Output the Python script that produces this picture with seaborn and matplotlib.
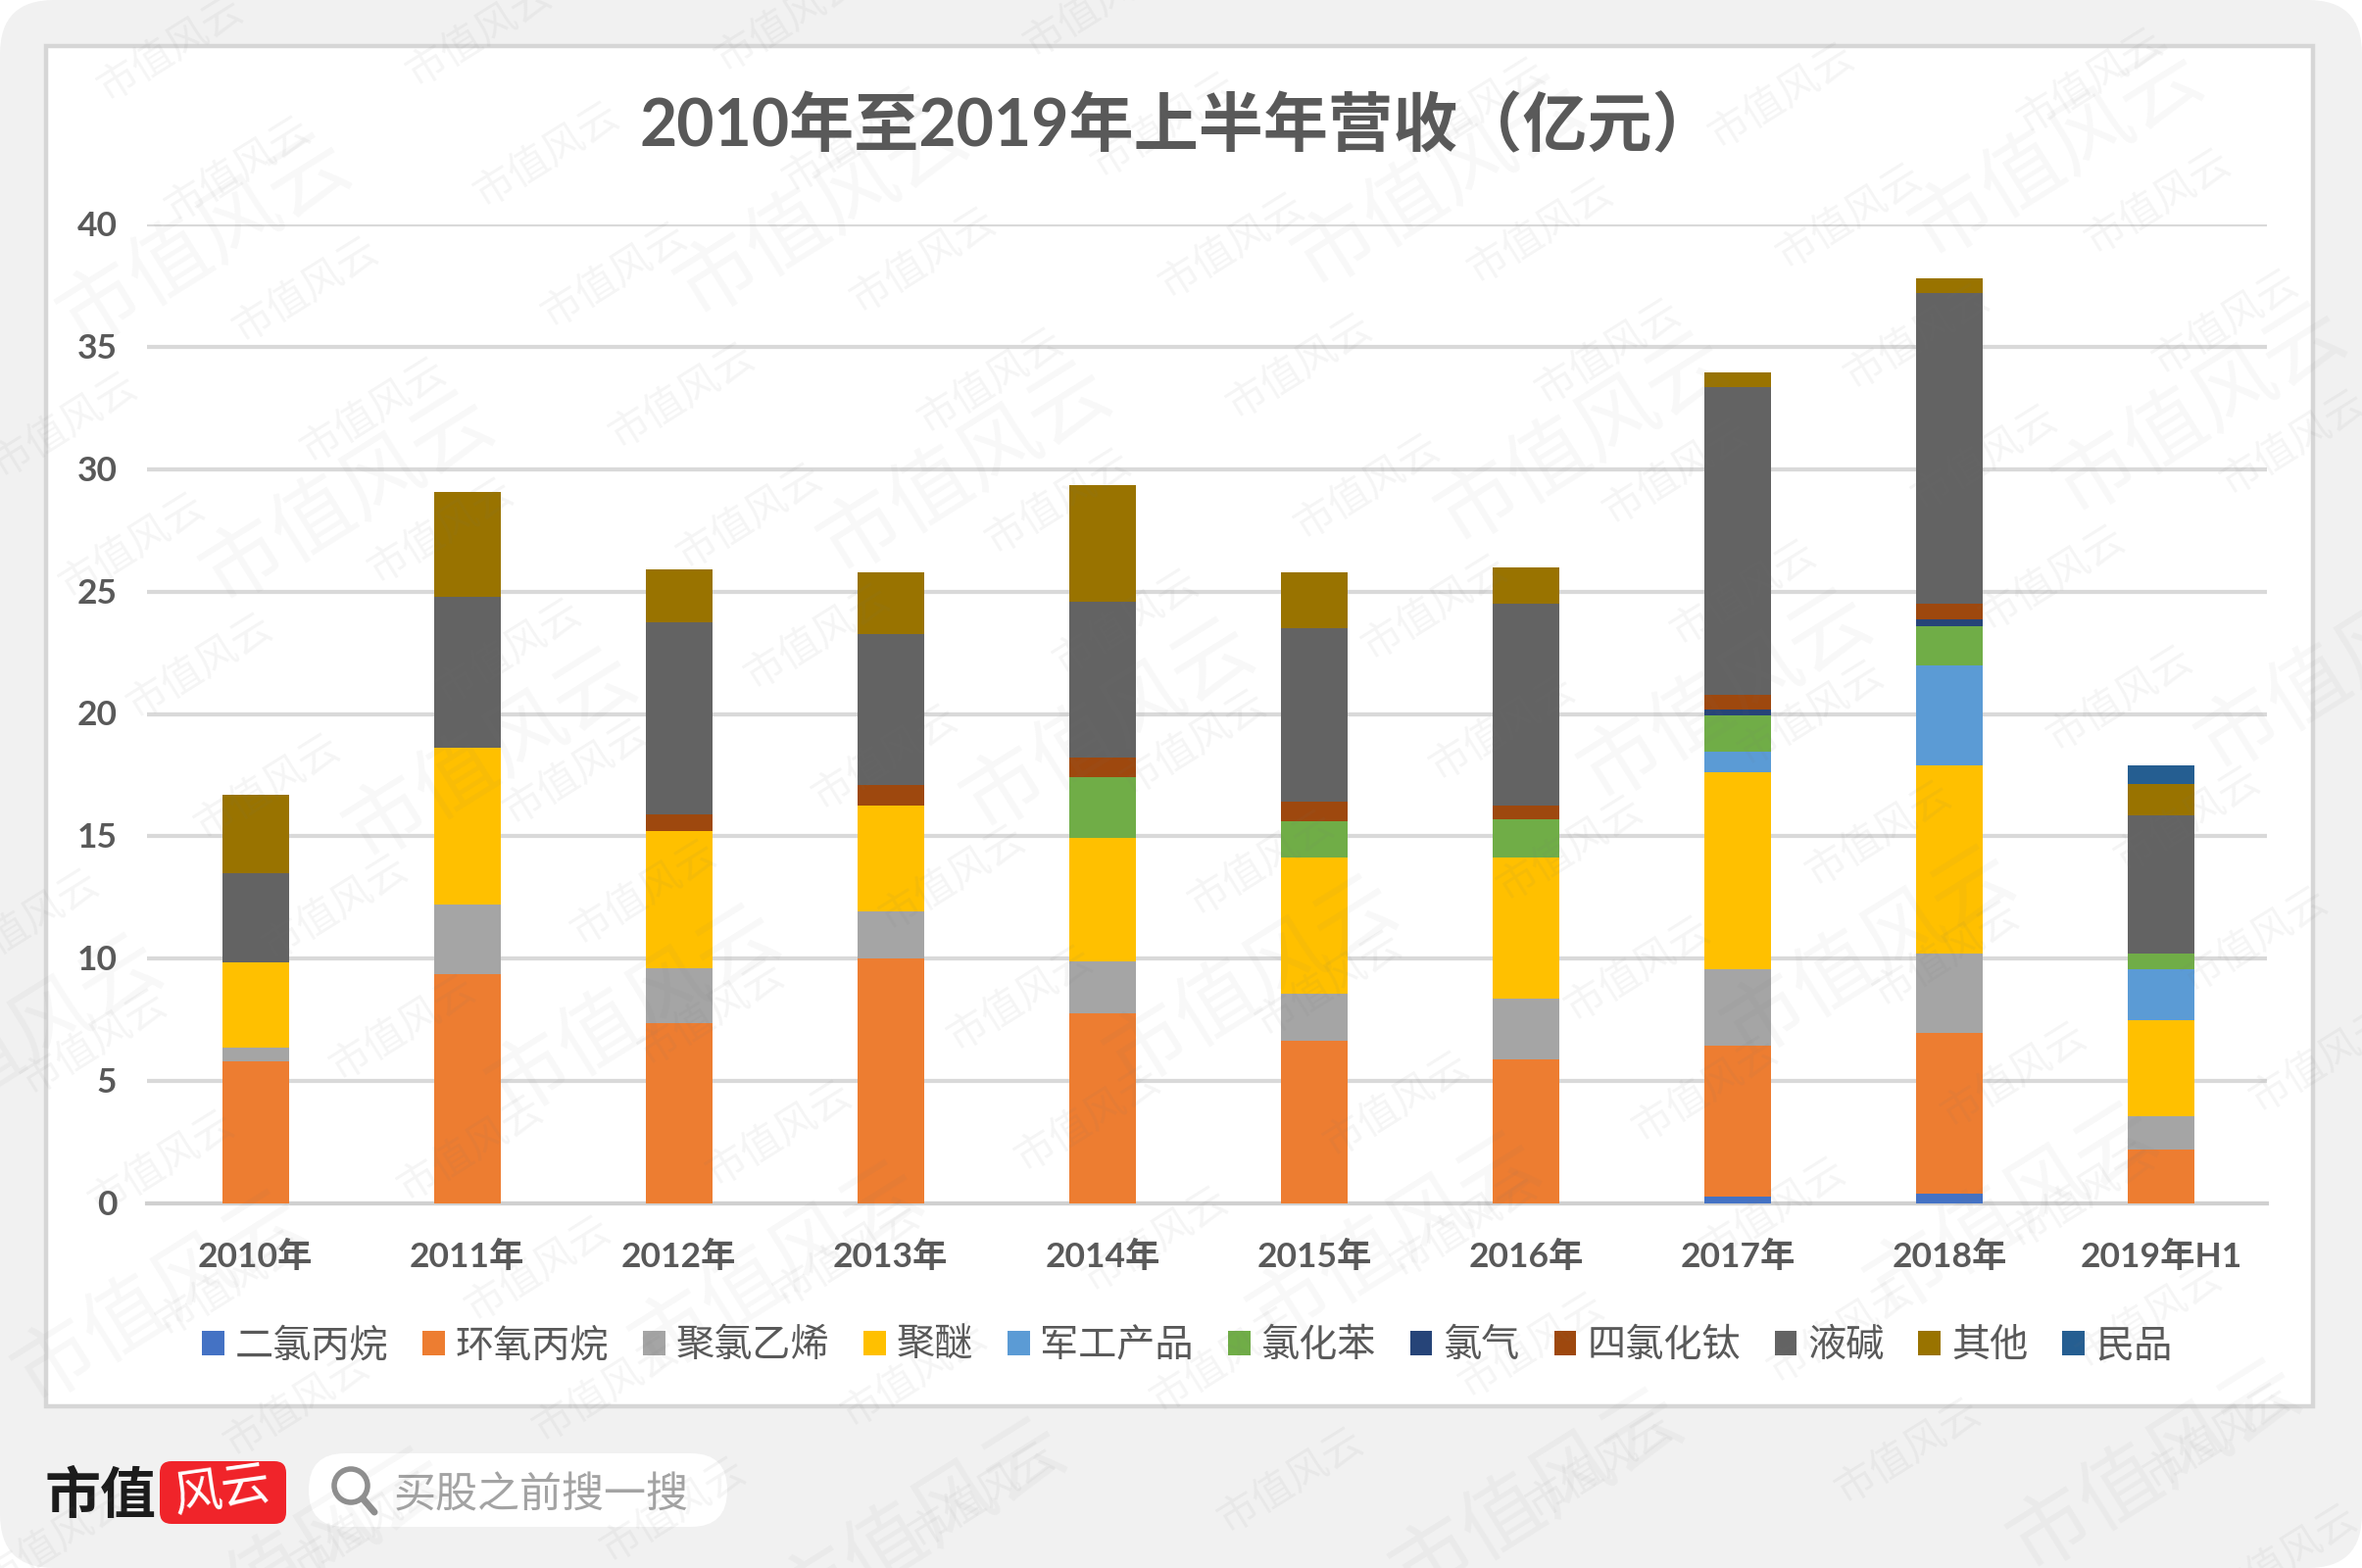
import matplotlib
matplotlib.use("Agg")
import matplotlib.pyplot as plt
from matplotlib.patches import FancyBboxPatch, Rectangle, Circle
from matplotlib.lines import Line2D
from matplotlib.transforms import ScaledTranslation
import numpy as np
import seaborn as sns

sns.set_theme(style="white")
FONT = ["Lato", "Noto Sans CJK SC", "DejaVu Sans"]
CJK = ["Noto Sans CJK SC", "DejaVu Sans"]
plt.rcParams["font.family"] = FONT

# Revenue by product line, 100 million yuan
years = ["2010年", "2011年", "2012年", "2013年", "2014年", "2015年", "2016年", "2017年", "2018年", "2019年H1"]
dichloropropane = [0, 0, 0, 0, 0, 0, 0, 0.3, 0.4, 0]
epichlorohydrin = [5.8, 9.35, 7.35, 10.0, 7.75, 6.65, 5.9, 6.15, 6.55, 2.2]
pvc = [0.55, 2.85, 2.25, 1.95, 2.15, 1.9, 2.45, 3.1, 3.25, 1.35]
polyether = [3.5, 6.4, 5.6, 4.3, 5.05, 5.6, 5.8, 8.05, 7.7, 3.95]
military = [0, 0, 0, 0, 0, 0, 0, 0.85, 4.1, 2.05]
chlorobenzene = [0, 0, 0, 0, 2.45, 1.45, 1.55, 1.5, 1.6, 0.65]
chlorine = [0, 0, 0, 0, 0, 0, 0, 0.25, 0.25, 0]
ticl4 = [0, 0, 0.7, 0.85, 0.8, 0.8, 0.55, 0.6, 0.65, 0]
caustic = [3.65, 6.2, 7.85, 6.15, 6.4, 7.1, 8.25, 12.55, 12.7, 5.65]
other = [3.2, 4.25, 2.15, 2.55, 4.75, 2.3, 1.5, 0.6, 0.6, 1.3]
civil = [0, 0, 0, 0, 0, 0, 0, 0, 0, 0.75]

series_names = ["二氯丙烷", "环氧丙烷", "聚氯乙烯", "聚醚", "军工产品", "氯化苯", "氯气", "四氯化钛", "液碱", "其他", "民品"]
series_values = [dichloropropane, epichlorohydrin, pvc, polyether, military, chlorobenzene,
                 chlorine, ticl4, caustic, other, civil]
series_colors = ["#4472C4", "#ED7D31", "#A5A5A5", "#FFC000", "#5B9BD5", "#70AD47",
                 "#264478", "#9E480E", "#636363", "#997300", "#255E91"]
title_text = "2010年至2019年上半年营收（亿元）"
search_text = "买股之前搜一搜"
brand_text = "市值"
brand_mark = "风云"
watermark = "市值风云"

W, H = 2410, 1600
fig = plt.figure(figsize=(W / 100, H / 100), dpi=100, facecolor="white")

# Page backdrop, drawn in pixel coordinates
bg = fig.add_axes([0, 0, 1, 1], zorder=0)
bg.set_xlim(0, W)
bg.set_ylim(H, 0)
bg.axis("off")
bg.add_patch(FancyBboxPatch((0, 0), W, H, boxstyle="round,pad=0,rounding_size=55",
                            fc="#F1F1F1", ec="none"))
bg.add_patch(Rectangle((47, 47), 2313, 1388, fc="white", ec="#D6D6D6", lw=3.2))

# Footer: brand and search pill
bg.text(46, 1527, brand_text, family=CJK, weight="bold", fontsize=41, color="#1c1c1c",
        ha="left", va="center")
bg.add_patch(FancyBboxPatch((163, 1491), 129, 64, boxstyle="round,pad=0,rounding_size=12",
                            fc="#F0242A", ec="none"))
bg.text(227, 1522, brand_mark, family=CJK, fontsize=36, color="white", style="italic",
        ha="center", va="center", rotation=8)
bg.add_patch(FancyBboxPatch((315, 1483), 427, 75, boxstyle="round,pad=0,rounding_size=37",
                            fc="white", ec="none"))
bg.add_patch(Circle((358, 1516), 17, fc="none", ec="#8f8f8f", lw=4))
bg.add_line(Line2D([370, 382], [1529, 1543], color="#8f8f8f", lw=5, solid_capstyle="round"))
bg.text(402, 1527, search_text, family=CJK, fontsize=31, color="#a3a3a3", ha="left", va="center")

# Stacked columns
ax = fig.add_axes([150 / W, 1 - 1228 / H, (2313 - 150) / W, (1228 - 229) / H], zorder=1)
ax.patch.set_alpha(0)
bottom = np.zeros(len(years))
for name, vals, col in zip(series_names, series_values, series_colors):
    sns.barplot(x=years, y=vals, bottom=bottom, color=col, saturation=1, width=0.315,
                label=name, ax=ax, errorbar=None, linewidth=0, zorder=3)
    bottom = bottom + np.array(vals)

ax.set_xlim(-0.5125, 9.5)
ax.set_ylim(0, 40)
ax.set_yticks(range(0, 41, 5))
ax.grid(axis="y", color="#D9D9D9", lw=3, zorder=0)
ax.grid(axis="x", visible=False)
ax.set_axisbelow(True)
for side in ["top", "right", "left"]:
    ax.spines[side].set_visible(False)
ax.spines["bottom"].set_color("#D0D0D0")
ax.spines["bottom"].set_linewidth(3)
ax.tick_params(axis="both", length=0, labelcolor="#595959")
ax.tick_params(axis="x", labelsize=25.5, pad=27)
ax.tick_params(axis="y", labelsize=25.5, pad=22)
for lab in ax.get_xticklabels() + ax.get_yticklabels():
    lab.set_fontweight("bold")
    lab.set_family(FONT)
for lab in ax.get_yticklabels():
    lab.set_transform(lab.get_transform() + ScaledTranslation(0, 1 / 100, fig.dpi_scale_trans))
ax.set_xlabel("")
ax.set_ylabel("")

fig.text(1202 / W, 1 - 130 / H, title_text, family=FONT, weight="bold", fontsize=47.6,
         color="#595959", ha="center", va="center")

handles, labels = ax.get_legend_handles_labels()
ax.legend(handles, labels, loc="center", bbox_to_anchor=(1211 / W, 1 - 1373 / H),
          bbox_transform=fig.transFigure, ncol=11, frameon=False,
          prop={"family": CJK, "size": 28.2}, labelcolor="#595959",
          handlelength=0.58, handleheight=0.6, handletextpad=0.28, columnspacing=0.89)

# Tiled diagonal watermark in two sizes, on top of everything
wm = fig.add_axes([0, 0, 1, 1], zorder=5)
wm.set_xlim(0, W)
wm.set_ylim(H, 0)
wm.axis("off")
for i in range(-8, 16):
    for j in range(-4, 16):
        x = 175 + i * 315 + j * 69
        y = 50 - i * 15 + j * 123
        if 0 < x < W and 0 < y < H:
            wm.text(x, y, watermark, family=CJK, fontsize=30, color="#777777", alpha=0.07,
                    rotation=32, ha="center", va="center", clip_on=True)
for i in range(-6, 10):
    for j in range(-3, 10):
        x = 210 + i * 630 + j * 146
        y = 246 - i * 30 + j * 262
        if 0 < x < W and 0 < y < H:
            wm.text(x, y, watermark, family=CJK, fontsize=60, color="#777777", alpha=0.055,
                    rotation=32, ha="center", va="center", clip_on=True)

fig.savefig("out.png", dpi=100, facecolor="white")
